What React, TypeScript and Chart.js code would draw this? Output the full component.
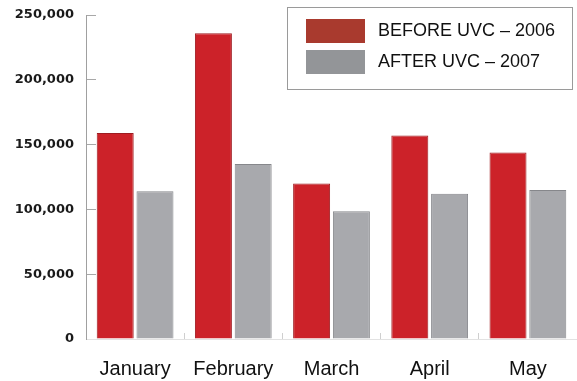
import React, { useEffect, useRef } from "react";
import { Chart, registerables } from "chart.js";

Chart.register(...registerables);

const categories = ["January", "February", "March", "April", "May"];
const seriesLabels = ["BEFORE UVC – 2006", "AFTER UVC – 2007"];
const before2006 = [159000, 236000, 120000, 157000, 144000];
const after2007 = [114000, 135000, 98500, 112000, 115000];
const yTicks = [0, 50000, 100000, 150000, 200000, 250000];
const yTickLabels = ["0", "50,000", "100,000", "150,000", "200,000", "250,000"];

const legendSwatch = ["#A93A2E", "#939598"];

const boxLegend = {
  id: "boxLegend",
  afterDraw(chart: any) {
    const ctx = chart.ctx;
    const right = chart.width - 4;
    const left = right - 286;
    const top = 7;
    const h = 83;
    ctx.save();
    ctx.fillStyle = "#ffffff";
    ctx.fillRect(left, top, right - left, h);
    ctx.strokeStyle = "#9a9a9a";
    ctx.lineWidth = 1;
    ctx.strokeRect(left + 0.5, top + 0.5, right - left - 1, h - 1);
    chart.data.datasets.forEach((ds: any, i: number) => {
      const y = top + 12 + i * 31;
      ctx.fillStyle = legendSwatch[i];
      ctx.fillRect(left + 19, y, 59, 24);
      ctx.fillStyle = "#111111";
      ctx.font = "18px 'Liberation Sans', Arial, sans-serif";
      ctx.textBaseline = "middle";
      ctx.textAlign = "left";
      ctx.fillText(ds.label, left + 91, y + 12);
    });
    ctx.restore();
  },
};

export default function App() {
  const ref = useRef<HTMLCanvasElement | null>(null);
  useEffect(() => {
    document.body.style.margin = "0";
    if (!ref.current) return;
    const chart = new Chart(ref.current, {
      type: "bar",
      data: {
        labels: categories,
        datasets: [
          {
            label: seriesLabels[0],
            data: before2006,
            backgroundColor: "#CC2229",
            borderColor: "#9E1C21",
            borderWidth: 1,
            categoryPercentage: 0.81,
            barPercentage: 0.93,
          },
          {
            label: seriesLabels[1],
            data: after2007,
            backgroundColor: "#A8A9AD",
            borderColor: "#86878B",
            borderWidth: 1,
            categoryPercentage: 0.81,
            barPercentage: 0.93,
          },
        ],
      },
      options: {
        responsive: false,
        animation: false,
        layout: { padding: { top: 15, left: 0, right: 0, bottom: 0 } },
        plugins: { legend: { display: false }, tooltip: { enabled: false } },
        scales: {
          x: {
            grid: {
              display: true,
              drawOnChartArea: false,
              drawTicks: true,
              tickLength: -6,
              color: "#cfcfcf",
            },
            border: { display: true, color: "#e2e2e2" },
            ticks: {
              color: "#111111",
              padding: 24,
              font: { family: "'Liberation Sans', Arial, sans-serif", size: 20 },
            },
            afterFit: (s: any) => {
              s.height = 42;
              s.paddingLeft = 0;
              s.paddingRight = 0;
            },
          },
          y: {
            min: 0,
            max: 250000,
            afterBuildTicks: (s: any) => {
              s.ticks = yTicks.map((v) => ({ value: v }));
            },
            grid: {
              display: true,
              drawOnChartArea: false,
              drawTicks: true,
              tickLength: -10,
              color: "#a8a8a8",
            },
            border: { display: true, color: "#a0a0a0" },
            ticks: {
              color: "#1a1a1a",
              padding: 22,
              font: { family: "'DejaVu Sans', sans-serif", size: 13, weight: "bold" },
              callback: (_v: any, i: number) => yTickLabels[i],
            },
            afterFit: (s: any) => {
              s.width = 86;
              s.paddingTop = 0;
              s.paddingBottom = 0;
            },
          },
        },
      },
      plugins: [boxLegend],
    });
    return () => chart.destroy();
  }, []);
  return <canvas ref={ref} width={577} height={381} style={{ display: "block" }} />;
}
